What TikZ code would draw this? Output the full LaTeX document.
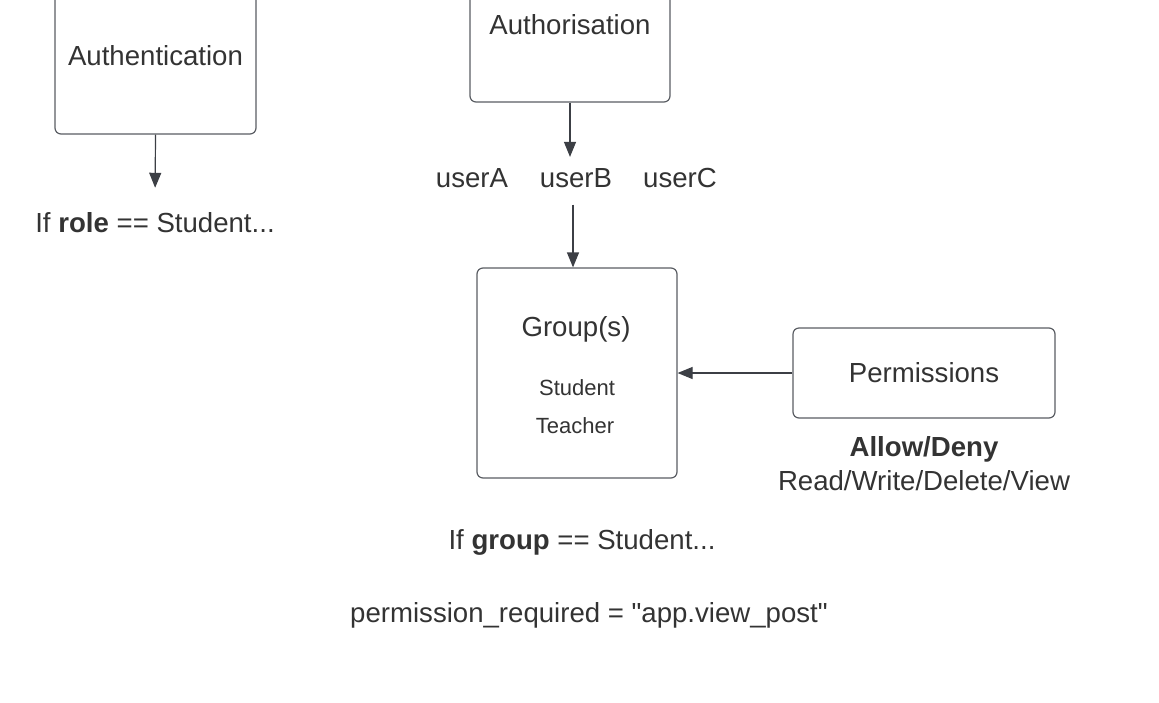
\documentclass[tikz,border=0pt]{standalone}
\usepackage{fontspec}
\setmainfont{Liberation Sans}
\usetikzlibrary{arrows.meta,positioning}
\definecolor{boxframe}{HTML}{5a5d63}
\definecolor{inktext}{HTML}{333333}
\definecolor{flowArrow}{HTML}{3c3f45}

\begin{document}
\begin{tikzpicture}[x=1pt,y=-1pt,font=\fontsize{27.6}{33}\selectfont,text=inktext,
  blkbox/.style={draw=boxframe,fill=white,rounded corners=6pt,line width=1.2pt,
    minimum width=200pt,inner sep=0pt},
  txt/.style={anchor=base,inner sep=3.33pt},
  small/.style={font=\fontsize{22}{26}\selectfont},
  flowar/.style={-{Triangle[length=15pt,width=12pt]},flowArrow,line width=1.2pt}]
\useasboundingbox (0,0) rectangle (1159,702);
\clip (0,0) rectangle (1159,702);
\node[blkbox,minimum width=201pt,minimum height=156pt](authn) at (155.5,56){Authentication};
\node[blkbox,minimum height=155pt](authz) at (570,24.5){Authorisation};
\node[txt](rolechk) at (155,232.3){If \textbf{role} == Student...};
\node[txt](userA) at (472,187){userA};
\node[txt](userB) at (576,187){userB};
\node[txt](userC) at (680,187){userC};
\node[blkbox,minimum height=210pt](grp) at (577,373){};
\node[txt](grptitle) at (576,336){Group(s)};
\node[txt,small](stud) at (577,395){Student};
\node[txt,small](teach) at (575,433.3){Teacher};
\node[blkbox,minimum width=262pt,minimum height=90pt](perm) at (924,373){Permissions};
\node[txt](allow) at (924,456.7){\textbf{Allow/Deny}};
\node[txt](rwdv) at (924,490.7){Read/Write/Delete/View};
\node[txt](grpchk) at (582,549){If \textbf{group} == Student...};
\node[txt](permreq) at (589,622.7){permission\_required = \textquotedbl app.view\_post\textquotedbl};
\draw[flowar,shorten >=21pt](authn.south)--(rolechk.north);
\draw[flowar,shorten >=7.6pt](authz.south)--(authz.south|-userB.north);
\draw[flowar,shorten <=13.7pt]([xshift=-4pt]userB.south-|grp.north)--([xshift=-4pt]grp.north);
\draw[flowar](perm.west)--(grp.east);
\end{tikzpicture}
\end{document}
